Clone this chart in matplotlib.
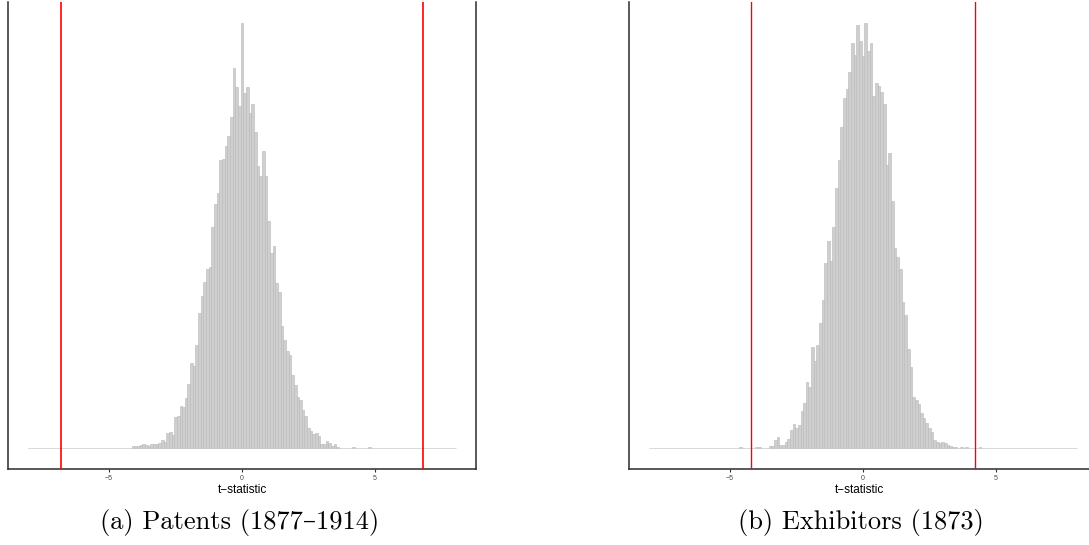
import numpy as np
import matplotlib
matplotlib.use("Agg")
import matplotlib.pyplot as plt

# Histogram bins: width 0.1, centred on multiples of 0.1, spanning -8 .. 8
bin_width = 0.1
bin_index_range = (-80, 80)

# Patents (1877-1914): counts per bin, first listed bin centred at -4.1
patents_first_bin = -41
patents_counts = [
    2, 2, 2, 3, 4, 3, 2, 4, 4, 4,
    5, 8, 6, 15, 16, 13, 31, 32, 42, 41,
    50, 64, 85, 82, 103, 135, 152, 166, 179, 181,
    221, 244, 255, 288, 289, 302, 312, 331, 380, 361,
    342, 425, 355, 361, 335, 344, 316, 282, 272, 297,
    272, 227, 195, 202, 165, 156, 122, 108, 97, 93,
    73, 63, 51, 48, 38, 32, 20, 17, 14, 15,
    12, 4, 4, 7, 5, 2, 4, 1, 0, 0,
    0, 0, 0, 1, 0, 0, 0, 0, 0, 1,
]
patents_critical = 6.81

# Exhibitors (1873): counts per bin, first listed bin centred at -4.6
exhibitors_first_bin = -46
exhibitors_counts = [
    1, 0, 0, 0, 0, 0, 1, 1, 0, 0,
    0, 2, 2, 8, 11, 3, 3, 6, 9, 18,
    24, 20, 23, 37, 45, 66, 61, 101, 87, 103,
    125, 148, 185, 207, 187, 221, 260, 288, 321, 350,
    359, 376, 405, 393, 423, 407, 392, 425, 397, 405,
    352, 365, 362, 356, 344, 283, 295, 247, 200, 191,
    179, 146, 133, 99, 81, 51, 48, 44, 35, 30,
    25, 20, 16, 8, 6, 5, 6, 5, 3, 2,
    1, 1, 0, 1, 0, 1, 0, 0, 0, 0, 1,
]
exhibitors_critical = 4.2

x_ticks = [-5, 0, 5]
x_label = "t\u2212statistic"
captions = ["(a) Patents (1877\u20131914)", "(b) Exhibitors (1873)"]

W, H = 1089, 545
fig = plt.figure(figsize=(W / 100, H / 100), dpi=100)


def full_bins(first_bin, counts):
    lo, hi = bin_index_range
    idx = np.arange(lo, hi + 1)
    heights = np.zeros(len(idx))
    start = first_bin - lo
    heights[start:start + len(counts)] = counts
    return idx * bin_width, heights


def panel(rect, first_bin, counts, crit, xlim, right_spine, red_lw):
    ax = fig.add_axes(rect)
    centres, heights = full_bins(first_bin, counts)
    ax.bar(centres, heights, width=bin_width, color="#cfcfcf",
           edgecolor="#b8b8b8", linewidth=0.4, zorder=2)
    ymax = heights.max()
    ax.set_ylim(-0.05 * ymax, 1.05 * ymax)
    ax.set_xlim(*xlim)
    for v in (-crit, crit):
        ax.axvline(v, color="#ff0000", linewidth=red_lw, zorder=3)
    ax.set_xticks(x_ticks)
    ax.set_xticklabels([f"{t}".replace("-", "\u2212") for t in x_ticks],
                       fontsize=5, color="#4d4d4d", family="Liberation Sans")
    ax.tick_params(axis="x", length=2.5, width=0.8, color="#333333", pad=2)
    ax.set_yticks([])
    ax.set_xlabel(x_label, fontsize=8.5, family="Liberation Sans", labelpad=1.5)
    ax.spines["top"].set_visible(False)
    ax.spines["right"].set_visible(right_spine)
    for s in ("left", "bottom", "right"):
        ax.spines[s].set_color("#2b2b2b")
        ax.spines[s].set_linewidth(1.1)
    return ax


bottom = 1 - 469 / H
top = 1 - 2 / H
# left panel: 8 px .. 476 px, x from -8.8 to 8.8
ax1 = panel([8 / W, bottom, 468 / W, top - bottom],
            patents_first_bin, patents_counts, patents_critical,
            (-8.8, 8.8), True, 1.2)
# right panel: 629 px .. figure edge, same scale as left
scale = 468 / 17.6
right_max = -8.8 + (W - 629) / scale
ax2 = panel([629 / W, bottom, (W - 629) / W, top - bottom],
            exhibitors_first_bin, exhibitors_counts, exhibitors_critical,
            (-8.8, right_max), False, 1.0)

cap_font = ["cmr10", "DejaVu Serif"]
fig.text(240 / W, 1 - 523 / H, captions[0], ha="center", va="center",
         fontsize=19, family=cap_font)
fig.text(861 / W, 1 - 523 / H, captions[1], ha="center", va="center",
         fontsize=19, family=cap_font)

fig.savefig("out.png", dpi=100, facecolor="white")
